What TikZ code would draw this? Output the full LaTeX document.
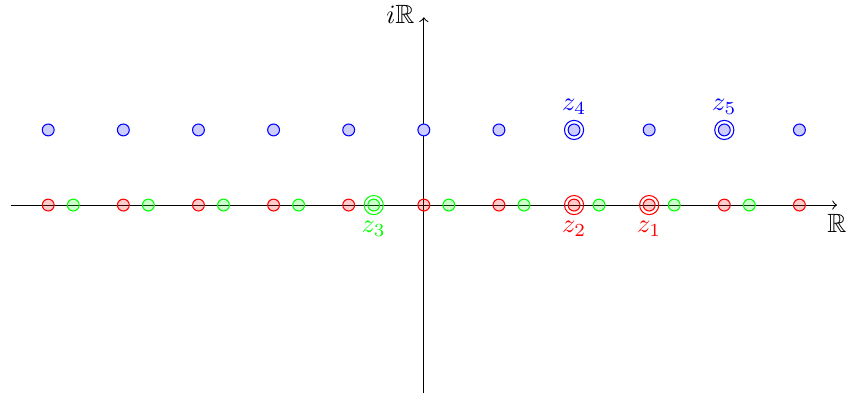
\documentclass[tikz,border=0pt]{standalone}
\usepackage{amsmath,amssymb}
\usetikzlibrary{positioning}
\tikzset{
  pt/.style={circle,draw=#1,fill=#1,fill opacity=0.2,draw opacity=1,inner sep=0pt,minimum size=0.158cm},
  bpt/.style={circle,draw=#1,fill=#1!20,inner sep=0pt,minimum size=0.158cm},
  ring/.style={circle,draw=#1,inner sep=0pt,minimum size=0.255cm},
  lbl/.style={#1,inner sep=1pt}
}
\begin{document}
\begin{tikzpicture}[x=1cm,y=1cm]
\useasboundingbox (-5.642,-2.542) rectangle (5.62,2.73);
% axes
\coordinate (xs) at (-5.5,0);
\coordinate (xe) at (5.5,0);
\coordinate (ys) at (0,-2.5);
\coordinate (ye) at (0,2.5);
\draw[->] (xs) -- (xe) node[below] (xl) {$\mathbb{R}$};
\draw[->] (ys) -- (ye) node[left,yshift=1pt] (yl) {$i\mathbb{R}$};
% poles
\foreach \k in {-5,...,5} {
   \node[pt=red] (r\k) at (\k,0) {};
   \node[bpt=blue] (b\k) at (\k,1) {};
}
\foreach \k in {-5,...,4} {
   \node[pt=green] (g\k) at (\k+1/3,0) {};
}
% marked points
\node[ring=red] (z1) at (r3) {};
\node[ring=red] (z2) at (r2) {};
\node[ring=green] (z3) at (g-1) {};
\node[ring=blue] (z4) at (b2) {};
\node[ring=blue] (z5) at (b4) {};
\node[lbl=red,below=1pt of z1] {$z_1$};
\node[lbl=red,below=1pt of z2] {$z_2$};
\node[lbl=green,below=1pt of z3] {$z_3$};
\node[lbl=blue,above=1pt of z4] {$z_4$};
\node[lbl=blue,above=1pt of z5] {$z_5$};
\end{tikzpicture}
\end{document}
